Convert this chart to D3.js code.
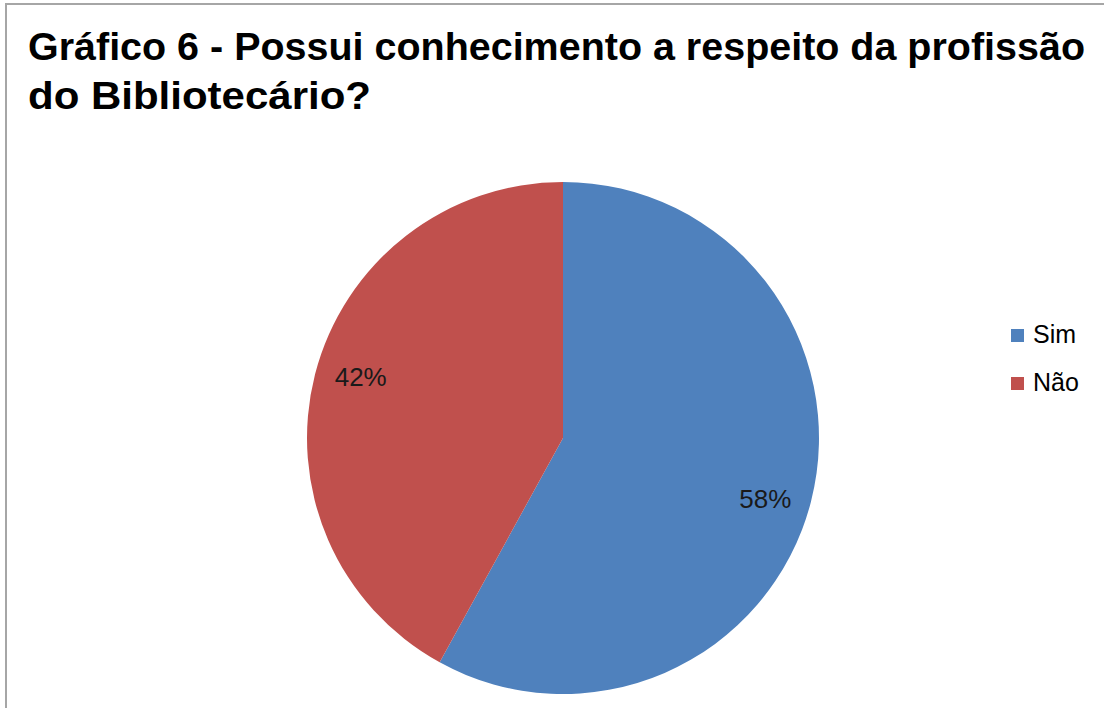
<!DOCTYPE html>
<html><head><meta charset="utf-8">
<script src="https://cdn.jsdelivr.net/npm/d3@7"></script>
<style>html,body{margin:0;padding:0;background:#fff;overflow:hidden}</style>
</head><body>
<script>
const categories = ["Sim", "Não"];
const values = [58, 42];
const labels = ["58%", "42%"];
const colors = ["#4F81BD", "#C0504D"];
const titleLines = ["Gráfico 6 - Possui conhecimento a respeito da profissão", "do Bibliotecário?"];

const W = 1104, H = 708;
const svg = d3.select("body").append("svg").attr("width", W).attr("height", H);

svg.append("rect").attr("x", 6).attr("y", 4).attr("width", W + 10).attr("height", H + 10)
  .attr("fill", "#fff").attr("stroke", "#a6a6a6").attr("stroke-width", 2);

// Title
const title = svg.append("g").attr("font-family", "Liberation Sans, Arial, sans-serif")
  .attr("font-weight", "bold").attr("fill", "#000").attr("font-size", 38);
title.append("text").attr("x", 28).attr("y", 60)
  .attr("textLength", 1057).attr("lengthAdjust", "spacingAndGlyphs").text(titleLines[0]);
title.append("text").attr("x", 28).attr("y", 109)
  .attr("textLength", 343).attr("lengthAdjust", "spacingAndGlyphs").text(titleLines[1]);

// Pie
const cx = 563, cy = 438, r = 256;
const pie = d3.pie().sort(null).value(d => d)(values);
const arc = d3.arc().innerRadius(0).outerRadius(r);
const g = svg.append("g").attr("transform", `translate(${cx},${cy})`);
g.selectAll("path").data(pie).join("path")
  .attr("d", arc).attr("fill", (d, i) => colors[i]);

// Data labels
const lr = r * 0.825;
g.selectAll("text").data(pie).join("text")
  .attr("transform", d => {
    const a = (d.startAngle + d.endAngle) / 2 + 0.04;
    return `translate(${lr * Math.sin(a)},${-lr * Math.cos(a)})`;
  })
  .attr("text-anchor", "middle").attr("dy", "0.35em")
  .attr("font-family", "Liberation Sans, Arial, sans-serif").attr("font-size", 26)
  .attr("fill", "#1a1a1a")
  .text((d, i) => labels[i]);

// Legend
const leg = svg.append("g").attr("transform", "translate(1011,329)");
const items = leg.selectAll("g").data(categories).join("g")
  .attr("transform", (d, i) => `translate(0,${i * 48})`);
items.append("rect").attr("width", 13).attr("height", 13).attr("fill", (d, i) => colors[i]);
items.append("text").attr("x", 22).attr("y", 14)
  .attr("font-family", "Liberation Sans, Arial, sans-serif").attr("font-size", 25)
  .attr("fill", "#000").text(d => d);
</script>
</body></html>
